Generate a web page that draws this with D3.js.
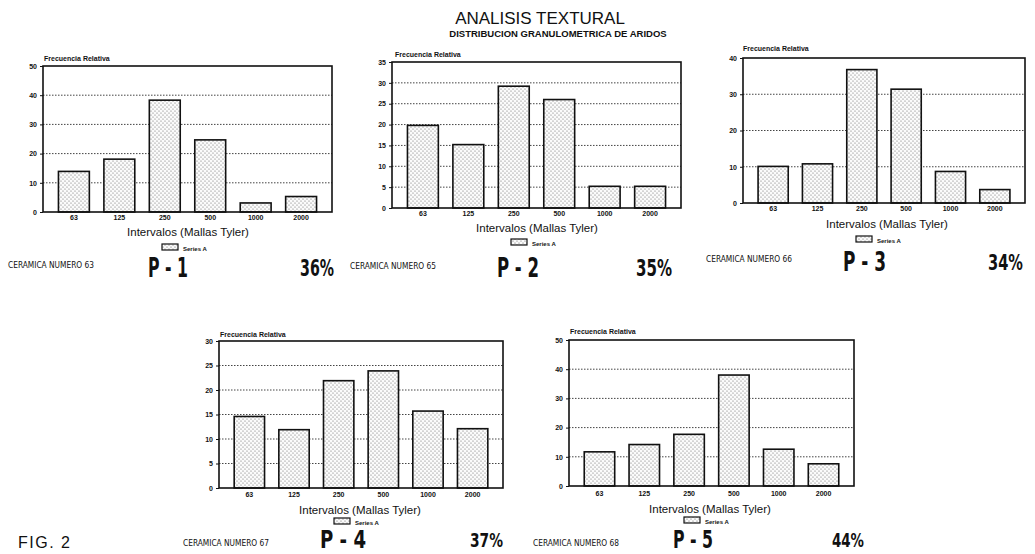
<!DOCTYPE html>
<html><head><meta charset="utf-8">
<script src="https://cdn.jsdelivr.net/npm/d3@7"></script>
<style>
html,body{margin:0;padding:0;background:#fff;}
svg{display:block;}
text{fill:#111;}
</style></head>
<body>
<svg id="c" width="1035" height="554"></svg>
<script>
// ---- DATA ----
const categories = ["63","125","250","500","1000","2000"];
const panelNames = ["P - 1","P - 2","P - 3","P - 4","P - 5"];
const ceramicaNumbers = ["63","65","66","67","68"];
const percentages = ["36%","35%","34%","37%","44%"];
const valuesP1 = [13.9, 18.1, 38.3, 24.7, 3.1, 5.3];
const valuesP2 = [19.8, 15.2, 29.2, 26.0, 5.2, 5.2];
const valuesP3 = [10.1, 10.8, 36.8, 31.4, 8.7, 3.7];
const valuesP4 = [14.6, 11.9, 21.9, 23.9, 15.7, 12.1];
const valuesP5 = [11.7, 14.2, 17.7, 38.0, 12.6, 7.6];
const yMax = [50, 35, 40, 30, 50];
const yStep = [10, 5, 10, 5, 10];
const seriesName = "Series A";
const yTitle = "Frecuencia Relativa";
const xTitle = "Intervalos (Mallas Tyler)";
const mainTitle = "ANALISIS TEXTURAL";
const subTitle = "DISTRIBUCION GRANULOMETRICA DE ARIDOS";
const figLabel = "FIG. 2";
const allValues = [valuesP1, valuesP2, valuesP3, valuesP4, valuesP5];

// ---- LAYOUT ----
const layout = [
  {l:43, r:332, t:66, b:212, ytx:44, yty:61, tickY:220, axY:236, axX:188, legX:162, legY:244, cerX:8, cerY:268, pX:148, pW:40, pY:277, pS:27, pcX:300, pcW:34, pcY:276, pcS:23},
  {l:392, r:681, t:62, b:208, ytx:395, yty:57, tickY:216, axY:232, axX:537, legX:511, legY:239, cerX:350, cerY:269, pX:497, pW:42, pY:277, pS:27, pcX:636, pcW:36, pcY:276, pcS:23},
  {l:743, r:1025, t:58, b:203, ytx:743, yty:51, tickY:211, axY:228, axX:887, legX:856, legY:236, cerX:706, cerY:262, pX:843, pW:43, pY:271, pS:27, pcX:988, pcW:35, pcY:270, pcS:21},
  {l:219, r:503, t:341, b:488, ytx:220, yty:337, tickY:497, axY:514, axX:360, legX:334, legY:518, cerX:183, cerY:546, pX:320, pW:46, pY:548, pS:24, pcX:470, pcW:33, pcY:547, pcS:20},
  {l:569, r:854, t:340, b:486, ytx:570, yty:334, tickY:496, axY:513, axX:710, legX:684, legY:517, cerX:533, cerY:546, pX:673, pW:40, pY:548, pS:24, pcX:832, pcW:32, pcY:547, pcS:20}
];

const svg = d3.select("#c");
const defs = svg.append("defs");
const pat = defs.append("pattern").attr("id","dots").attr("patternUnits","userSpaceOnUse")
  .attr("width",4).attr("height",4);
pat.append("rect").attr("width",4).attr("height",4).attr("fill","#fbfbfb");
pat.append("circle").attr("cx",1).attr("cy",1).attr("r",0.6).attr("fill","#666");
pat.append("circle").attr("cx",3).attr("cy",3).attr("r",0.6).attr("fill","#666");

const sans = "'Liberation Sans', Arial, sans-serif";
const narrow = "'Liberation Sans Narrow', 'DejaVu Sans Condensed', 'Liberation Sans', sans-serif";

// titles
svg.append("text").attr("x",540).attr("y",24).attr("text-anchor","middle")
  .attr("font-family",sans).attr("font-size",17).text(mainTitle);
svg.append("text").attr("x",558).attr("y",37).attr("text-anchor","middle")
  .attr("font-family",sans).attr("font-weight","bold").attr("font-size",9.5).text(subTitle);
svg.append("text").attr("x",18).attr("y",548)
  .attr("font-family",sans).attr("font-size",16).attr("letter-spacing",1.5).text(figLabel);

layout.forEach((L, i) => {
  const vals = allValues[i];
  const g = svg.append("g");
  const x = d3.scaleBand().domain(categories).range([L.l, L.r]).paddingInner(0.32).paddingOuter(0.34);
  const y = d3.scaleLinear().domain([0, yMax[i]]).range([L.b, L.t]);
  const ticks = d3.range(0, yMax[i] + 0.001, yStep[i]);

  // gridlines
  g.selectAll("line.grid").data(ticks.filter(t => t > 0 && t < yMax[i])).enter().append("line")
    .attr("x1", L.l).attr("x2", L.r).attr("y1", d => y(d)).attr("y2", d => y(d))
    .attr("stroke","#444").attr("stroke-width",1).attr("stroke-dasharray","1.5,1.5");

  // bars
  g.selectAll("rect.bar").data(vals).enter().append("rect")
    .attr("x", (d, j) => x(categories[j])).attr("width", x.bandwidth())
    .attr("y", d => y(d)).attr("height", d => L.b - y(d))
    .attr("fill","url(#dots)").attr("stroke","#111").attr("stroke-width",1.6);

  // frame
  g.append("rect").attr("x",L.l).attr("y",L.t).attr("width",L.r-L.l).attr("height",L.b-L.t)
    .attr("fill","none").attr("stroke","#111").attr("stroke-width",1.6);

  // y axis
  const ya = d3.axisLeft(y).tickValues(ticks).tickSize(3).tickFormat(d3.format("d"));
  const yg = g.append("g").attr("transform",`translate(${L.l},0)`).call(ya);
  yg.select(".domain").remove();
  yg.selectAll("line").attr("stroke","#111");
  yg.selectAll("text").attr("font-family",sans).attr("font-weight","bold").attr("font-size",7).attr("fill","#111");

  // x axis labels
  const xa = d3.axisBottom(x).tickSize(0).tickPadding(0);
  const xg = g.append("g").attr("transform",`translate(0,${L.tickY})`).call(xa);
  xg.select(".domain").remove();
  xg.selectAll("text").attr("dy",0).attr("font-family",sans).attr("font-weight","bold").attr("font-size",7).attr("fill","#111");

  // y title
  g.append("text").attr("x",L.ytx).attr("y",L.yty).attr("font-family",sans).attr("font-weight","bold")
    .attr("font-size",7).text(yTitle);
  // x title
  g.append("text").attr("x",L.axX).attr("y",L.axY).attr("text-anchor","middle").attr("font-family",sans)
    .attr("font-size",11.5).text(xTitle);
  // legend
  g.append("rect").attr("x",L.legX).attr("y",L.legY).attr("width",16).attr("height",6)
    .attr("fill","url(#dots)").attr("stroke","#111").attr("stroke-width",1.2);
  g.append("text").attr("x",L.legX+21).attr("y",L.legY+6.5).attr("font-family",sans).attr("font-weight","bold")
    .attr("font-size",6).text(seriesName);
  // bottom labels
  g.append("text").attr("x",L.cerX).attr("y",L.cerY).attr("font-family",narrow)
    .attr("font-size",8).attr("textLength",86).attr("lengthAdjust","spacingAndGlyphs")
    .text("CERAMICA NUMERO " + ceramicaNumbers[i]);
  g.append("text").attr("x",L.pX).attr("y",L.pY).attr("font-family",narrow).attr("font-weight","bold")
    .attr("font-size",L.pS).attr("textLength",L.pW).attr("lengthAdjust","spacingAndGlyphs")
    .text(panelNames[i]);
  g.append("text").attr("x",L.pcX).attr("y",L.pcY).attr("font-family",narrow).attr("font-weight","bold")
    .attr("font-size",L.pcS).attr("textLength",L.pcW).attr("lengthAdjust","spacingAndGlyphs")
    .text(percentages[i]);
});
</script>
</body></html>
